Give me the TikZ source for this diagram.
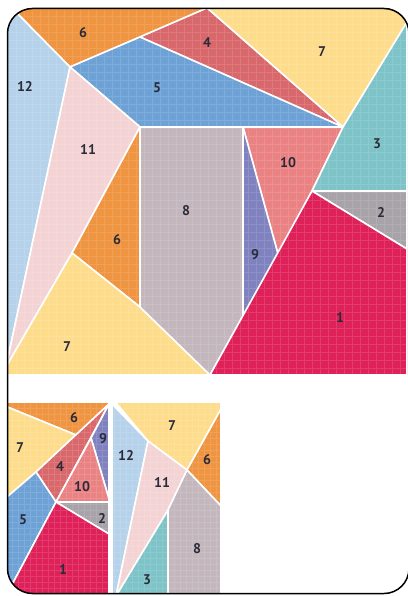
\documentclass[tikz,border=0pt]{standalone}
\usepackage{fontspec}
\setmainfont{PT Sans}
\definecolor{cOrange}{HTML}{EF9440}
\definecolor{cRed}{HTML}{D8686B}
\definecolor{cYellow}{HTML}{FDDC8C}
\definecolor{cSky}{HTML}{B5D2EA}
\definecolor{cBlue}{HTML}{6EA2D6}
\definecolor{cPink}{HTML}{F4D3D5}
\definecolor{cTeal}{HTML}{7EC3C7}
\definecolor{cSalmon}{HTML}{EA8283}
\definecolor{cMauve}{HTML}{C3B7BD}
\definecolor{cGrey}{HTML}{A7A3A9}
\definecolor{cViolet}{HTML}{7F82BF}
\definecolor{cCrimson}{HTML}{DE2159}
\definecolor{cInk}{HTML}{2A2A38}

\begin{document}
\begin{tikzpicture}[x=1pt, y=-1pt,
    piece/.style={draw=white, line width=1.6pt, line join=round},
    lbl/.style={text=cInk, font=\bfseries\fontsize{14}{14}\selectfont, inner sep=0pt}]
    \useasboundingbox (0,0) rectangle (407,596);

    % Big square
    \begin{scope}
        \clip[rounded corners=25pt] (7.5,8.5) rectangle (409,593.5);
        \clip (0,0) rectangle (407,376);
        \filldraw[piece, fill=cOrange] (4,0) -- (207,0) -- (207,8) -- (140,37) -- (70,67) -- cycle;
        \filldraw[piece, fill=cYellow] (207,0) -- (407,0) -- (407,22) -- (343,127) -- (207,8) -- cycle;
        \filldraw[piece, fill=cRed] (207,8) -- (343,127) -- (140,37) -- cycle;
        \filldraw[piece, fill=cSky] (0,0) -- (4,0) -- (70,67) -- (6,367) -- (0,367) -- cycle;
        \filldraw[piece, fill=cBlue] (70,67) -- (140,37) -- (343,127) -- (140,127) -- cycle;
        \filldraw[piece, fill=cPink] (70,67) -- (140,127) -- (72,253) -- (6,367) -- cycle;
        \filldraw[piece, fill=cOrange] (140,127) -- (140,307) -- (72,253) -- cycle;
        \filldraw[piece, fill=cYellow] (72,253) -- (140,307) -- (210,375) -- (0,375) -- (0,367) -- (6,367) -- cycle;
        \filldraw[piece, fill=cMauve] (140,127) -- (243,127) -- (243,316) -- (210,375) -- (140,307) -- cycle;
        \filldraw[piece, fill=cSalmon] (243,127) -- (343,127) -- (312,191) -- (278,254) -- cycle;
        \filldraw[piece, fill=cViolet] (243,127) -- (278,254) -- (243,316) -- cycle;
        \filldraw[piece, fill=cTeal] (343,127) -- (407,22) -- (407,191) -- (312,191) -- cycle;
        \filldraw[piece, fill=cGrey] (312,191) -- (407,191) -- (407,249) -- cycle;
        \filldraw[piece, fill=cCrimson] (312,191) -- (407,249) -- (407,375) -- (210,375) -- cycle;
        \draw[white, opacity=0.12, line width=0.3pt, step=8pt] (0,376) grid (407,0);
    \end{scope}

    % Small square
    \begin{scope}
        \clip[rounded corners=25pt] (7.5,8.5) rectangle (409,593.5);
        \clip (0,403.5) rectangle (221.8,596);
        \filldraw[piece, fill=cOrange] (0,398) -- (109,398) -- (109,404) -- (76,435) -- (0,404) -- cycle;
        \filldraw[piece, fill=cYellow] (0,404) -- (76,435) -- (36,472) -- (0,503) -- cycle;
        \filldraw[piece, fill=cRed] (109,404) -- (36,472) -- (56,502) -- cycle;
        \filldraw[piece, fill=cBlue] (0,503) -- (36,472) -- (56,502) -- (6,596) -- (0,596) -- cycle;
        \filldraw[piece, fill=cViolet] (109,404) -- (91,438) -- (109,499) -- cycle;
        \filldraw[piece, fill=cSalmon] (91,438) -- (109,499) -- (109,502) -- (56,502) -- cycle;
        \filldraw[piece, fill=cGrey] (56,502) -- (109,502) -- (109,534) -- cycle;
        \filldraw[piece, fill=cCrimson] (56,502) -- (109,534) -- (109,596) -- (6,596) -- cycle;
        \filldraw[piece, fill=cYellow] (112,398) -- (221,398) -- (221,409) -- (187,470) -- (148,441) -- cycle;
        \filldraw[piece, fill=cSky] (112,404) -- (148,441) -- (116,596) -- (112,596) -- cycle;
        \filldraw[piece, fill=cPink] (148,441) -- (187,470) -- (168,510) -- (116,596) -- cycle;
        \filldraw[piece, fill=cOrange] (221,409) -- (221,506) -- (187,470) -- cycle;
        \filldraw[piece, fill=cMauve] (187,470) -- (221,506) -- (221,596) -- (168,596) -- (168,510) -- cycle;
        \filldraw[piece, fill=cTeal] (168,510) -- (168,596) -- (116,596) -- cycle;
        \draw[white, opacity=0.12, line width=0.3pt, step=6pt] (0,596) grid (222,400);
    \end{scope}

    % Frame
    \draw[line width=1.5pt, rounded corners=25pt] (7.5,8.5) rectangle (409,593.5);

    % Labels, big square
    \node[lbl] (bsix) at (83,33) {6};
    \node[lbl] (bfour) at (207,43) {4};
    \node[lbl] (bseven) at (322,52) {7};
    \node[lbl] (btwelve) at (25,87) {12};
    \node[lbl] (bfive) at (157,88) {5};
    \node[lbl] (beleven) at (88,150) {11};
    \node[lbl] (bthree) at (377,144) {3};
    \node[lbl] (bten) at (288,163) {10};
    \node[lbl] (beight) at (186,211) {8};
    \node[lbl] (bsixb) at (117,240) {6};
    \node[lbl] (btwo) at (381,213) {2};
    \node[lbl] (bnine) at (255,255) {9};
    \node[lbl] (bone) at (340,318) {1};
    \node[lbl] (bsevenb) at (67,347) {7};

    % Labels, small square
    \node[lbl] (ssix) at (74,418) {6};
    \node[lbl] (sseven) at (20,448) {7};
    \node[lbl] (sfour) at (60,467) {4};
    \node[lbl] (snine) at (103,439) {9};
    \node[lbl] (sten) at (82,487) {10};
    \node[lbl] (sfive) at (23,520) {5};
    \node[lbl] (stwo) at (102,518) {2};
    \node[lbl] (sone) at (63,570) {1};
    \node[lbl] (stwelve) at (126,455) {12};
    \node[lbl] (ssevenb) at (172,426) {7};
    \node[lbl] (ssixb) at (207,460) {6};
    \node[lbl] (seleven) at (162,483) {11};
    \node[lbl] (seight) at (197,549) {8};
    \node[lbl] (sthree) at (147,580) {3};
\end{tikzpicture}
\end{document}
